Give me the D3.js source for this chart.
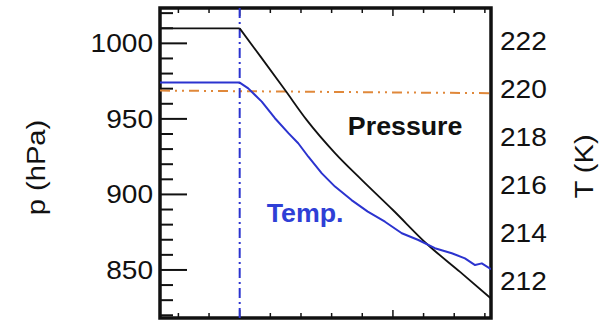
<!DOCTYPE html>
<html>
<head>
<meta charset="utf-8">
<script src="https://cdn.jsdelivr.net/npm/d3@7"></script>
<style>
  html, body { margin: 0; padding: 0; background: #fff; }
  svg { display: block; font-family: "Liberation Sans", Arial, Helvetica, sans-serif; }
</style>
</head>
<body>
<svg id="chart"></svg>
<script>
// data (time in arbitrary units, 0 = vertical marker)
const pTime = [-2.6, 0, 0.73, 1.48, 2.19, 3.11, 3.99, 5.0, 6.11, 7.19, 8.2];
const pressure = [1009.9, 1009.9, 989.9, 969.1, 949.2, 927.4, 909.5, 889.7, 867.2, 848.7, 831.1];

const tTime = [-2.6, 0, 0.28, 0.72, 1.15, 1.59, 1.91, 2.24, 2.68, 3.11, 3.65, 4.18, 4.74, 5.29,
  5.83, 6.37, 6.92, 7.35, 7.68, 7.9, 8.2];
const temp = [220.27, 220.27, 220.03, 219.48, 218.79, 218.17, 217.75, 217.19, 216.5, 215.95,
  215.39, 214.91, 214.49, 214.01, 213.73, 213.39, 213.18, 212.97, 212.69, 212.76, 212.52];

const refTime = [-2.6, 8.2];
const refTemp = [219.94, 219.83];   // orange reference line
const markerTime = 0;               // blue vertical dash-dot

const pTicks = [850, 900, 950, 1000];
const pMinor = d3.range(820, 1030, 10);
const TTicks = [212, 214, 216, 218, 220, 222];
const xMinor = d3.range(-2, 9, 1);
const xMajor = [0, 5];

const width = 600, height = 321;
const plot = { left: 160, right: 491, top: 8, bottom: 318 };

const svg = d3.select('#chart')
  .attr('width', width)
  .attr('height', height);

svg.append('rect').attr('width', width).attr('height', height).attr('fill', '#fff');

const x = d3.scaleLinear().domain([-2.6, 8.2]).range([plot.left, plot.right]);
const yP = d3.scaleLinear().domain([818.2, 1023.4]).range([plot.bottom, plot.top]);
const yT = d3.scaleLinear().domain([210.49, 223.37]).range([plot.bottom, plot.top]);

svg.append('defs').append('clipPath').attr('id', 'clip')
  .append('rect')
  .attr('x', plot.left).attr('y', plot.top)
  .attr('width', plot.right - plot.left).attr('height', plot.bottom - plot.top);

const stretch = 1.08;

// frame first, ticks on top
svg.append('rect')
  .attr('x', plot.left).attr('y', plot.top)
  .attr('width', plot.right - plot.left).attr('height', plot.bottom - plot.top)
  .attr('fill', 'none')
  .attr('stroke', '#111')
  .attr('stroke-width', 3.5);

// left axis labels
const leftAxis = svg.append('g')
  .attr('transform', `translate(${plot.left},0)`)
  .call(d3.axisLeft(yP).tickValues(pTicks).tickSize(0).tickPadding(7).tickFormat(d3.format('d')));
leftAxis.select('.domain').remove();
leftAxis.selectAll('.tick text')
  .attr('x', null)
  .attr('transform', `translate(-7,0) scale(${stretch},1)`)
  .attr('font-size', 26)
  .attr('fill', '#111');
leftAxis.attr('font-family', null);

// left inward ticks every 10 hPa, longer at labelled values
svg.append('g')
  .selectAll('line')
  .data(pMinor)
  .join('line')
  .attr('x1', plot.left)
  .attr('x2', d => plot.left + (pTicks.includes(d) ? 27 : 13))
  .attr('y1', d => yP(d))
  .attr('y2', d => yP(d))
  .attr('stroke', '#111')
  .attr('stroke-width', 2);

// right axis: labels only
const rightAxis = svg.append('g')
  .attr('transform', `translate(${plot.right},0)`)
  .call(d3.axisRight(yT).tickValues(TTicks).tickSize(0).tickPadding(9));
rightAxis.select('.domain').remove();
rightAxis.selectAll('.tick text')
  .attr('x', null)
  .attr('transform', `translate(9,0) scale(${stretch},1)`)
  .attr('font-size', 26)
  .attr('fill', '#111');
rightAxis.attr('font-family', null);

// top / bottom inward ticks, no labels
[[plot.bottom, -1], [plot.top, 1]].forEach(([yPos, dir]) => {
  svg.append('g')
    .selectAll('line')
    .data(xMinor)
    .join('line')
    .attr('x1', d => x(d))
    .attr('x2', d => x(d))
    .attr('y1', yPos)
    .attr('y2', d => yPos + dir * (xMajor.includes(d) ? 8 : 5))
    .attr('stroke', '#111')
    .attr('stroke-width', 1.5);
});

const lines = svg.append('g').attr('clip-path', 'url(#clip)');

// orange reference
lines.append('path')
  .datum(refTime.map((t, i) => [t, refTemp[i]]))
  .attr('fill', 'none')
  .attr('stroke', '#e0883a')
  .attr('stroke-width', 2)
  .attr('stroke-dasharray', '10,5,2,5,2,5')
  .attr('d', d3.line().x(d => x(d[0])).y(d => yT(d[1])));

// vertical marker
lines.append('line')
  .attr('x1', x(markerTime)).attr('x2', x(markerTime))
  .attr('y1', plot.top).attr('y2', plot.bottom)
  .attr('stroke', '#2b33cf')
  .attr('stroke-width', 2)
  .attr('stroke-dasharray', '10,4,2,4');

// pressure: flat part straight, descent smoothed
const pPts = pTime.map((t, i) => [t, pressure[i]]);
lines.append('path')
  .datum(pPts.filter(d => d[0] <= markerTime))
  .attr('fill', 'none')
  .attr('stroke', '#111')
  .attr('stroke-width', 1.8)
  .attr('d', d3.line().x(d => x(d[0])).y(d => yP(d[1])));
lines.append('path')
  .datum(pPts.filter(d => d[0] >= markerTime))
  .attr('fill', 'none')
  .attr('stroke', '#111')
  .attr('stroke-width', 1.8)
  .attr('d', d3.line().x(d => x(d[0])).y(d => yP(d[1])).curve(d3.curveMonotoneX));

// temperature
lines.append('path')
  .datum(tTime.map((t, i) => [t, temp[i]]))
  .attr('fill', 'none')
  .attr('stroke', '#2b33cf')
  .attr('stroke-width', 2)
  .attr('stroke-linejoin', 'round')
  .attr('d', d3.line().x(d => x(d[0])).y(d => yT(d[1])));

// annotations
svg.append('text')
  .attr('transform', `translate(${x(3.53)},${yP(939.3)}) scale(1.05,1)`)
  .attr('font-size', 25.5)
  .attr('font-weight', 'bold')
  .attr('fill', '#111')
  .text('Pressure');

svg.append('text')
  .attr('transform', `translate(${x(0.88)},${yT(214.49)}) scale(1.05,1)`)
  .attr('font-size', 25.5)
  .attr('font-weight', 'bold')
  .attr('fill', '#2f3fd6')
  .text('Temp.');

// axis titles
svg.append('text')
  .attr('transform', `translate(37.5,167.5) rotate(-90) scale(1.1,1)`)
  .attr('text-anchor', 'middle')
  .attr('dy', '0.3em')
  .attr('font-size', 26.5)
  .attr('fill', '#111')
  .text('p (hPa)');

svg.append('text')
  .attr('transform', `translate(585,166.5) rotate(-90) scale(1.1,1)`)
  .attr('text-anchor', 'middle')
  .attr('dy', '0.3em')
  .attr('font-size', 26.5)
  .attr('fill', '#111')
  .text('T (K)');
</script>
</body>
</html>
